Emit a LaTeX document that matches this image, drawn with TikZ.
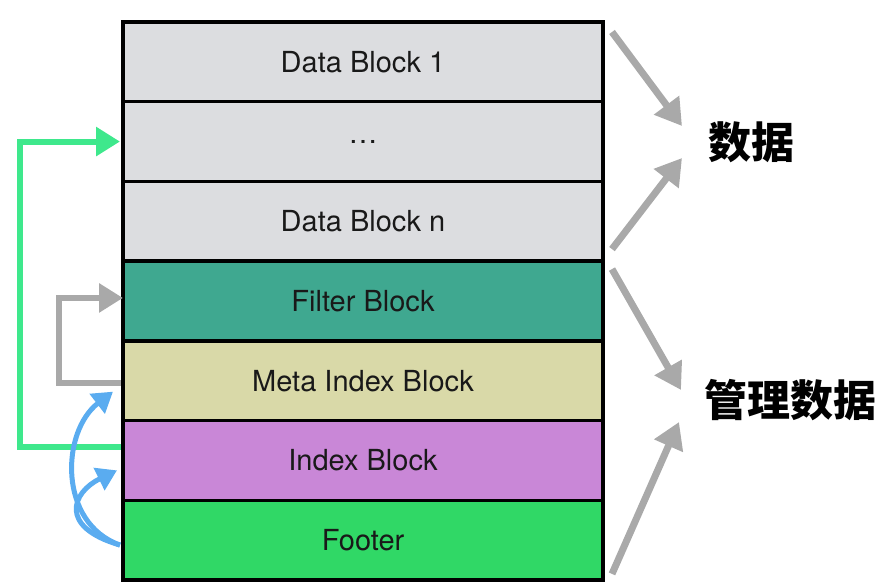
\documentclass[tikz,border=0pt]{standalone}
\usepackage{fontspec}
\setmainfont{TeX Gyre Heros}
\newfontfamily\cjk{Noto Sans CJK SC}
\usetikzlibrary{arrows.meta,positioning}
\definecolor{dataGray}{HTML}{DCDDE0}
\definecolor{filterTeal}{HTML}{3FA890}
\definecolor{metaKhaki}{HTML}{D9D9A8}
\definecolor{indexViolet}{HTML}{C987D7}
\definecolor{footerGreen}{HTML}{30D866}
\definecolor{arrowGreen}{HTML}{3EE88C}
\definecolor{arrowGray}{HTML}{A9A9A9}
\definecolor{arrowBlue}{HTML}{5AACF0}
\tikzset{
  blockbox/.style={draw=black, line width=3.4pt, minimum width=480pt,
    minimum height=79.7pt, inner sep=0pt, outer sep=0pt, anchor=north west,
    font=\fontsize{29}{34}\selectfont, text=black!90},
  grayarrow/.style={draw=arrowGray, line width=7pt,
    -{Triangle[length=26pt,width=30pt]}},
  greenarrow/.style={draw=arrowGreen, line width=6pt,
    -{Triangle[length=24pt,width=28pt]}},
  grayloop/.style={draw=arrowGray, line width=6pt,
    -{Triangle[length=24pt,width=28pt]}},
  bluearrow/.style={draw=arrowBlue, line width=5pt,
    -{Triangle[length=20pt,width=24pt]}},
  cjklabel/.style={font=\cjk\bfseries\fontsize{43}{48}\selectfont, text=black},
}
\begin{document}
\begin{tikzpicture}[x=1pt,y=-1pt]
\useasboundingbox (0,0) rectangle (892,586);
% blocks
\node[blockbox, fill=dataGray]    (b1) at (123,22)    {Data Block 1};
\node[blockbox, fill=dataGray]    (b2) at (123,101.7) {\dots};
\node[blockbox, fill=dataGray]    (b3) at (123,181.4) {Data Block n};
\node[blockbox, fill=filterTeal]  (b4) at (123,261.1) {Filter Block};
\node[blockbox, fill=metaKhaki]   (b5) at (123,340.8) {Meta Index Block};
\node[blockbox, fill=indexViolet] (b6) at (123,420.5) {Index Block};
\node[blockbox, fill=footerGreen] (b7) at (123,500.2) {Footer};
% right labels
\node[cjklabel] (dl) at (751,142) {数据};
\node[cjklabel] (ml) at (790,400) {管理数据};
% arrow targets
\coordinate (d1) at (682,126);
\coordinate (d2) at (682,158);
\coordinate (m1) at (681,390);
\coordinate (m2) at (679,422);
% right arrows
\draw[grayarrow] ([xshift=9pt,yshift=-10pt]b1.north east) -- (d1);
\draw[grayarrow] ([xshift=9pt,yshift=12pt]b3.south east) -- (d2);
\draw[grayarrow] ([xshift=9pt,yshift=-8pt]b4.north east) -- (m1);
\draw[grayarrow] ([xshift=9pt,yshift=6pt]b7.south east) -- (m2);
% green arrow: index block -> data blocks
\draw[greenarrow] ([xshift=-2pt,yshift=13pt]b6.west) -- ++(-101,0) |- ([xshift=-3pt]b2.west);
% gray arrow: meta index -> filter
\draw[grayloop] ([xshift=-2pt,yshift=-2pt]b5.west) -- ++(-62,0) |- ([yshift=3pt]b4.west);
% blue arrows: footer -> meta index, footer -> index
\draw[bluearrow] ([xshift=-3pt,yshift=-5pt]b7.west)
  .. controls +(-62,-22) and +(-52,40) .. ([xshift=-10pt,yshift=-11pt]b5.west);
\draw[bluearrow] ([xshift=-3pt,yshift=-5pt]b7.west)
  .. controls +(-62,-18) and +(-45,22) .. ([xshift=-6pt,yshift=-10pt]b6.west);
\end{tikzpicture}
\end{document}
